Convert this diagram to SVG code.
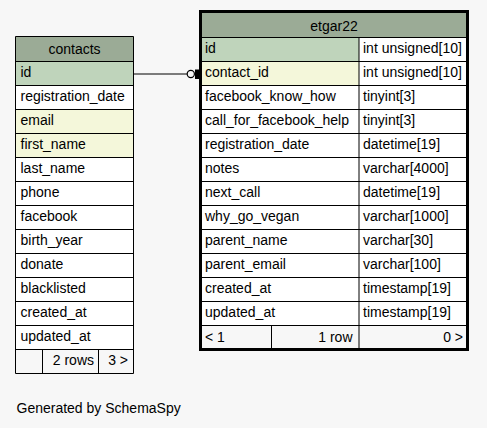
<svg xmlns="http://www.w3.org/2000/svg" width="487" height="428" viewBox="0 0 487 428">
<style>
text{font-family:"Liberation Sans",Arial,Helvetica,sans-serif;font-size:14px;fill:#000}
.hd{fill:#9bab96}
.pk{fill:#bfd4bb}
.ix{fill:#f4f7da}
.bd{fill:#ffffff}
.ft{fill:#f7f7f7}
.ln{stroke:#000;stroke-width:1;fill:none}
.mid{text-anchor:middle}
.end{text-anchor:end}
</style>
<rect width="487" height="428" fill="#f7f7f7"/>
<g id="contacts">
<rect class="hd" x="15.5" y="36.5" width="118" height="25"/>
<rect class="pk" x="15.5" y="61.5" width="118" height="24"/>
<rect class="bd" x="15.5" y="85.5" width="118" height="24"/>
<rect class="ix" x="15.5" y="109.5" width="118" height="48"/>
<rect class="bd" x="15.5" y="157.5" width="118" height="192"/>
<rect class="ft" x="15.5" y="349.5" width="118" height="24"/>
<path class="ln" d="M15.5 36.5H133.5V373.5H15.5Z M15.5 61.5H133.5 M15.5 85.5H133.5 M15.5 109.5H133.5 M15.5 133.5H133.5 M15.5 157.5H133.5 M15.5 181.5H133.5 M15.5 205.5H133.5 M15.5 229.5H133.5 M15.5 253.5H133.5 M15.5 277.5H133.5 M15.5 301.5H133.5 M15.5 325.5H133.5 M15.5 349.5H133.5 M42.5 349.5V373.5 M98.5 349.5V373.5"/>
<text class="mid" x="74.5" y="54">contacts</text>
<text x="20.5" y="76.5">id</text>
<text x="20.5" y="100.5">registration_date</text>
<text x="20.5" y="124.5">email</text>
<text x="20.5" y="148.5">first_name</text>
<text x="20.5" y="172.5">last_name</text>
<text x="20.5" y="196.5">phone</text>
<text x="20.5" y="220.5">facebook</text>
<text x="20.5" y="244.5">birth_year</text>
<text x="20.5" y="268.5">donate</text>
<text x="20.5" y="292.5">blacklisted</text>
<text x="20.5" y="316.5">created_at</text>
<text x="20.5" y="340.5">updated_at</text>
<text class="end" x="94" y="365">2 rows</text>
<text class="end" x="128" y="365">3 &gt;</text>
</g>
<g id="etgar22">
<rect class="hd" x="200.5" y="11.5" width="267" height="26"/>
<rect class="pk" x="200.5" y="37.5" width="158.5" height="24"/>
<rect class="bd" x="359" y="37.5" width="108.5" height="24"/>
<rect class="ix" x="200.5" y="61.5" width="158.5" height="24"/>
<rect class="bd" x="359" y="61.5" width="108.5" height="24"/>
<rect class="bd" x="200.5" y="85.5" width="267" height="240"/>
<rect class="ft" x="200.5" y="325.5" width="267" height="24"/>
<path class="ln" d="M200.5 37.5H467.5 M200.5 61.5H467.5 M200.5 85.5H467.5 M200.5 109.5H467.5 M200.5 133.5H467.5 M200.5 157.5H467.5 M200.5 181.5H467.5 M200.5 205.5H467.5 M200.5 229.5H467.5 M200.5 253.5H467.5 M200.5 277.5H467.5 M200.5 301.5H467.5 M200.5 325.5H467.5 M359 37.5V349.5 M271.5 325.5V349.5"/>
<rect x="200.5" y="11.5" width="267" height="338" fill="none" stroke="#000" stroke-width="3"/>
<text class="mid" x="334" y="31">etgar22</text>
<text x="205" y="53">id</text>
<text x="205" y="77">contact_id</text>
<text x="205" y="101">facebook_know_how</text>
<text x="205" y="125">call_for_facebook_help</text>
<text x="205" y="149">registration_date</text>
<text x="205" y="173">notes</text>
<text x="205" y="197">next_call</text>
<text x="205" y="221">why_go_vegan</text>
<text x="205" y="245">parent_name</text>
<text x="205" y="269">parent_email</text>
<text x="205" y="293">created_at</text>
<text x="205" y="317">updated_at</text>
<text x="363" y="53">int unsigned[10]</text>
<text x="363" y="77">int unsigned[10]</text>
<text x="363" y="101">tinyint[3]</text>
<text x="363" y="125">tinyint[3]</text>
<text x="363" y="149">datetime[19]</text>
<text x="363" y="173">varchar[4000]</text>
<text x="363" y="197">datetime[19]</text>
<text x="363" y="221">varchar[1000]</text>
<text x="363" y="245">varchar[30]</text>
<text x="363" y="269">varchar[100]</text>
<text x="363" y="293">timestamp[19]</text>
<text x="363" y="317">timestamp[19]</text>
<text x="205" y="342">&lt; 1</text>
<text class="end" x="352.5" y="342">1 row</text>
<text class="end" x="463" y="342">0 &gt;</text>
</g>
<g id="connectors">
<path d="M133.5 74H187" stroke="#000" stroke-width="1" fill="none"/>
<circle cx="190.8" cy="74" r="3.6" fill="none" stroke="#000" stroke-width="1.2"/>
<rect x="195" y="69.5" width="4" height="9.5" fill="#000"/>
</g>
<text x="16.5" y="413">Generated by SchemaSpy</text>
</svg>
